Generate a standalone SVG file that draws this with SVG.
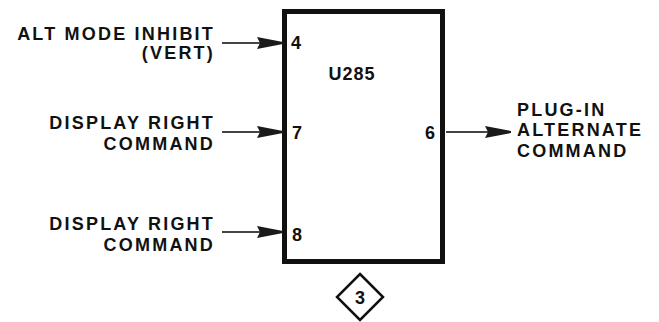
<svg xmlns="http://www.w3.org/2000/svg" width="659" height="322" viewBox="0 0 659 322">
<defs>
<style>
text{font-family:"Liberation Sans",Arial,sans-serif;font-weight:bold;fill:#111;}
.lbl{font-size:18px;letter-spacing:2.2px;}
.pin{font-size:18px;}
.wire{stroke:#444;stroke-width:2;fill:none;}
</style>
<marker id="ah" markerWidth="28" markerHeight="16" refX="26" refY="8" orient="auto" markerUnits="userSpaceOnUse">
<path d="M0,2 L26,7 L26,9 L0,14 L3,8 Z" fill="#1a1a1a"/>
</marker>
</defs>
<rect width="659" height="322" fill="#fff"/>
<g id="u285">
<rect x="284.5" y="11.5" width="158" height="250" fill="#fff" stroke="#111" stroke-width="5"/>
<text x="352" y="80" class="pin" text-anchor="middle" style="letter-spacing:1px">U285</text>
<text x="291" y="49" class="pin">4</text>
<text x="292" y="139" class="pin">7</text>
<text x="292" y="241" class="pin">8</text>
<text x="435" y="139" class="pin" text-anchor="end">6</text>
</g>
<g id="in4">
<text x="215" y="40" class="lbl" text-anchor="end">ALT MODE INHIBIT</text>
<text x="215" y="59" class="lbl" text-anchor="end">(VERT)</text>
</g>
<g id="in7">
<text x="215" y="129" class="lbl" text-anchor="end">DISPLAY RIGHT</text>
<text x="215" y="150" class="lbl" text-anchor="end">COMMAND</text>
</g>
<g id="in8">
<text x="215" y="230" class="lbl" text-anchor="end">DISPLAY RIGHT</text>
<text x="215" y="251" class="lbl" text-anchor="end">COMMAND</text>
</g>
<g id="out6">
<text x="517" y="116" class="lbl">PLUG-IN</text>
<text x="517" y="136" class="lbl">ALTERNATE</text>
<text x="517" y="157" class="lbl">COMMAND</text>
</g>
<g id="tag3">
<polygon points="360,274 383,297 360,320 337,297" fill="#fff" stroke="#111" stroke-width="2.5"/>
<text x="360" y="304" class="pin" text-anchor="middle">3</text>
</g>
<g id="connectors">
<line class="wire" x1="222" y1="43" x2="283" y2="43" marker-end="url(#ah)"/>
<line class="wire" x1="222" y1="132" x2="283" y2="132" marker-end="url(#ah)"/>
<line class="wire" x1="222" y1="232" x2="283" y2="232" marker-end="url(#ah)"/>
<line class="wire" x1="446" y1="132" x2="511" y2="132" marker-end="url(#ah)"/>
</g>
</svg>
